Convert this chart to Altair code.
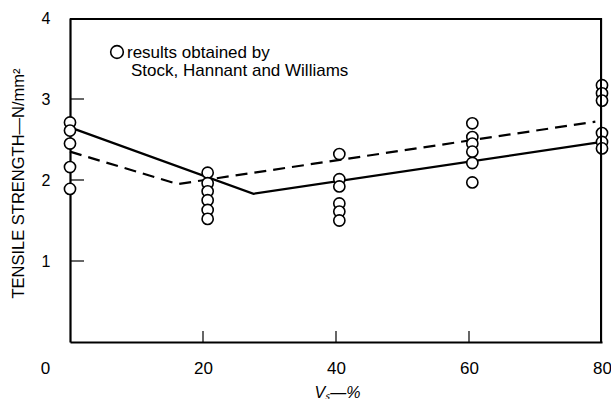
import altair as alt
import pandas as pd

# ---- data ----
group_vs = [0, 20.7, 40.5, 60.5, 80]
strength_at_0 = [2.71, 2.61, 2.45, 2.16, 1.89]
strength_at_20 = [2.09, 1.96, 1.86, 1.75, 1.63, 1.52]
strength_at_40 = [2.32, 2.01, 1.92, 1.71, 1.61, 1.50]
strength_at_60 = [2.70, 2.53, 2.45, 2.35, 2.21, 1.97]
strength_at_80 = [3.17, 3.07, 2.98, 2.58, 2.47, 2.39]

solid_vs = [0, 27.6, 80]
solid_strength = [2.65, 1.83, 2.47]
dashed_vs = [0, 16.2, 79]
dashed_strength = [2.35, 1.95, 2.72]

x_label_values = [0, 20, 40, 60, 80]
y_label_values = [1, 2, 3, 4]
x_tick_values = [20, 40, 60]
y_tick_values = [1, 2, 3]
frame_edges = ["top", "right"]
legend_lines = ["results obtained by", "Stock, Hannant and Williams"]
x_title = "Vₛ—%"
y_title = "TENSILE STRENGTH—N/mm²"

FONT = "Liberation Sans"
W, H = 532, 324

rows = []
for vs, vals in zip(group_vs, [strength_at_0, strength_at_20, strength_at_40,
                               strength_at_60, strength_at_80]):
    for v in vals:
        rows.append({"vs": vs, "strength": v})
points_df = pd.DataFrame(rows)
solid_df = pd.DataFrame({"vs": solid_vs, "strength": solid_strength})
dashed_df = pd.DataFrame({"vs": dashed_vs, "strength": dashed_strength})
xt_df = pd.DataFrame({"vs": x_tick_values})
yt_df = pd.DataFrame({"strength": y_tick_values})
top_df = pd.DataFrame({"edge": [frame_edges[0]]})
right_df = pd.DataFrame({"edge": [frame_edges[1]]})
leg1_df = pd.DataFrame({"t": [legend_lines[0]]})
leg2_df = pd.DataFrame({"t": [legend_lines[1]]})

x_scale = alt.Scale(domain=[0, 80], nice=False, zero=False)
y_scale = alt.Scale(domain=[0, 4], nice=False, zero=False)

x_axis = alt.Axis(
    values=x_label_values, title=x_title, grid=False, ticks=False, tickSize=0,
    domainColor="black", domainWidth=2.2, labelFontSize=17, labelColor="black",
    labelPadding=18, labelFlush=False, labelFont=FONT,
    labelOffset={"condition": {"test": "datum.value === 0", "value": -25}, "value": 0},
    titleFont=FONT, titleFontSize=16, titleFontWeight="normal", titleColor="black",
    titleFontStyle="italic",
    titleX=267, titleY=50, titleBaseline="middle", titleAlign="center",
)
y_axis = alt.Axis(
    values=y_label_values, title=y_title, grid=False, ticks=False, tickSize=0,
    domainColor="black", domainWidth=2.2, labelFontSize=16, labelColor="black",
    labelPadding=20, labelFlush=False, labelFont=FONT,
    titleFont=FONT, titleFontSize=16.5, titleFontWeight="normal", titleColor="black",
    titleAngle=270, titleX=-52, titleY=165, titleBaseline="middle", titleAlign="center",
)

X = alt.X("vs:Q", scale=x_scale, axis=x_axis)
Y = alt.Y("strength:Q", scale=y_scale, axis=y_axis)

# top and right edges of the frame (drawn just inside the plot area)
top_edge = alt.Chart(top_df).mark_rule(color="#000000", strokeWidth=2, opacity=1).encode(
    y=alt.value(1), x=alt.value(0), x2=alt.value(W))
right_edge = alt.Chart(right_df).mark_rule(color="#000000", strokeWidth=2, opacity=1).encode(
    x=alt.value(W - 1), y=alt.value(0), y2=alt.value(H))

solid = alt.Chart(solid_df).mark_line(color="black", strokeWidth=2.2).encode(x=X, y=Y)
dashed = alt.Chart(dashed_df).mark_line(
    color="black", strokeWidth=2.2, strokeDash=[12, 7]).encode(x=X, y=Y)
pts = alt.Chart(points_df).mark_point(
    shape="circle", size=125, filled=False, fill="white", fillOpacity=1,
    stroke="black", strokeWidth=1.6, opacity=1).encode(x=X, y=Y)

xticks = alt.Chart(xt_df).mark_rule(color="black", strokeWidth=1.2).encode(
    x=X, y=alt.value(H), y2=alt.value(H - 11))
yticks = alt.Chart(yt_df).mark_rule(color="black", strokeWidth=1.2).encode(
    y=Y, x=alt.value(0), x2=alt.value(14))

leg_sym = alt.Chart(leg1_df).mark_point(
    shape="circle", size=160, filled=False, fill="white", fillOpacity=1,
    stroke="black", strokeWidth=1.6, opacity=1).encode(x=alt.value(47), y=alt.value(34))
leg_t1 = alt.Chart(leg1_df).mark_text(
    font=FONT, fontSize=17, align="left", baseline="alphabetic", color="black").encode(
    text="t:N", x=alt.value(57), y=alt.value(40))
leg_t2 = alt.Chart(leg2_df).mark_text(
    font=FONT, fontSize=17, align="left", baseline="alphabetic", color="black").encode(
    text="t:N", x=alt.value(61), y=alt.value(57.5))

chart = alt.layer(
    xticks, yticks, solid, dashed, pts, leg_sym, leg_t1, leg_t2, top_edge, right_edge
).properties(
    width=W, height=H,
    autosize=alt.AutoSizeParams(type="none"),
    padding={"left": 70, "top": 18, "right": 9, "bottom": 57},
    background="white",
).configure(font=FONT)

chart.save("out.html", embed_options={"renderer": "svg", "actions": False})
